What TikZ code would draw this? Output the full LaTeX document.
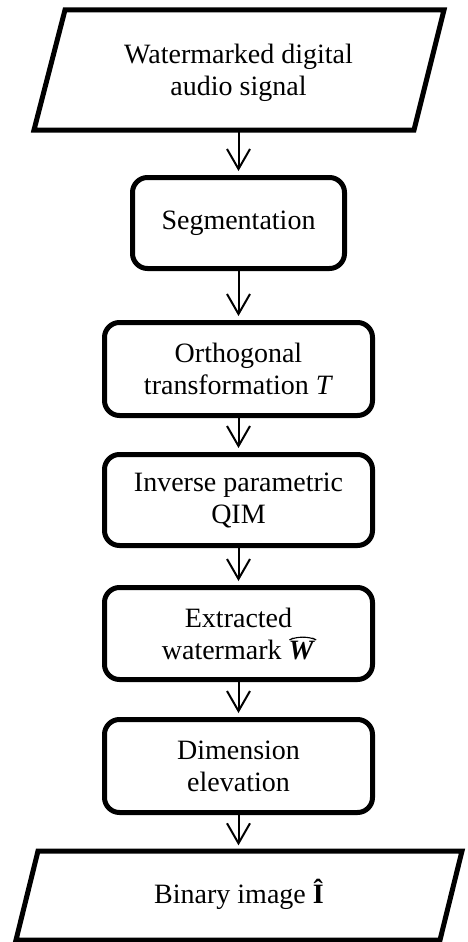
\documentclass[tikz,border=0pt]{standalone}
\usepackage{fontspec}
\setmainfont{Liberation Serif}
\usetikzlibrary{arrows.meta}

% bold slanted W with a wide circumflex drawn over it
\newcommand\hatW{\textbf{\textit{W}}\tikz[overlay, x=1em, y=1em, baseline=0pt]
  \draw[line width=0.04em, line join=miter] (-0.78,0.75) -- (-0.44,0.92) -- (-0.10,0.75);}

\tikzset{
  procbox/.style={draw, line width=5pt, rounded corners=15pt,
    minimum width=268pt, align=center, inner sep=0pt},
  iolabel/.style={align=center, inner sep=0pt, minimum width=300pt},
  ioframe/.style={draw, line width=5pt, line join=miter},
  flow/.style={line width=2pt,
    -{Straight Barb[length=20pt,width=23pt,line width=2pt]},
    shorten >=4pt}
}

\begin{document}
\begin{tikzpicture}[x=1pt, y=-1pt,
    every node/.style={font=\fontsize{28}{32}\selectfont}]
  \useasboundingbox (0,0) rectangle (468,942);

  % input: parallelogram
  \draw[ioframe] (65,10) -- (444,10) -- (414,130) -- (34,130) -- cycle;
  \node[iolabel, minimum height=120pt] (in) at (238.5,70) {};
  \node[iolabel] at (238.5,73) {Watermarked digital\\audio signal};

  % processing steps
  \node[procbox, minimum width=212pt, minimum height=91pt] (seg) at (238.5,223)
    {Segmentation};
  \node[procbox, minimum height=93pt] (orth) at (238.5,369)
    {Orthogonal\\transformation \textit{T}};
  \node[procbox, minimum height=91pt] (qim) at (238.5,500)
    {Inverse parametric\\QIM};
  \node[procbox, minimum height=92pt] (wm) at (238.5,633.5)
    {Extracted\\watermark \hatW};
  \node[procbox, minimum height=93pt] (dim) at (238.5,766)
    {Dimension\\elevation};

  % output: parallelogram
  \draw[ioframe] (38,851) -- (462,851) -- (440,940) -- (16,940) -- cycle;
  \node[iolabel, minimum height=89pt] (out) at (239,894)
    {Binary image \textbf{Î}};

  % connectors
  \draw[flow] (in.south) -- (seg.north);
  \draw[flow] (seg) -- (orth);
  \draw[flow] (orth) -- (qim);
  \draw[flow] (qim) -- (wm);
  \draw[flow] (wm) -- (dim);
  \draw[flow] (dim.south) -- (dim.south |- out.north);
\end{tikzpicture}
\end{document}
